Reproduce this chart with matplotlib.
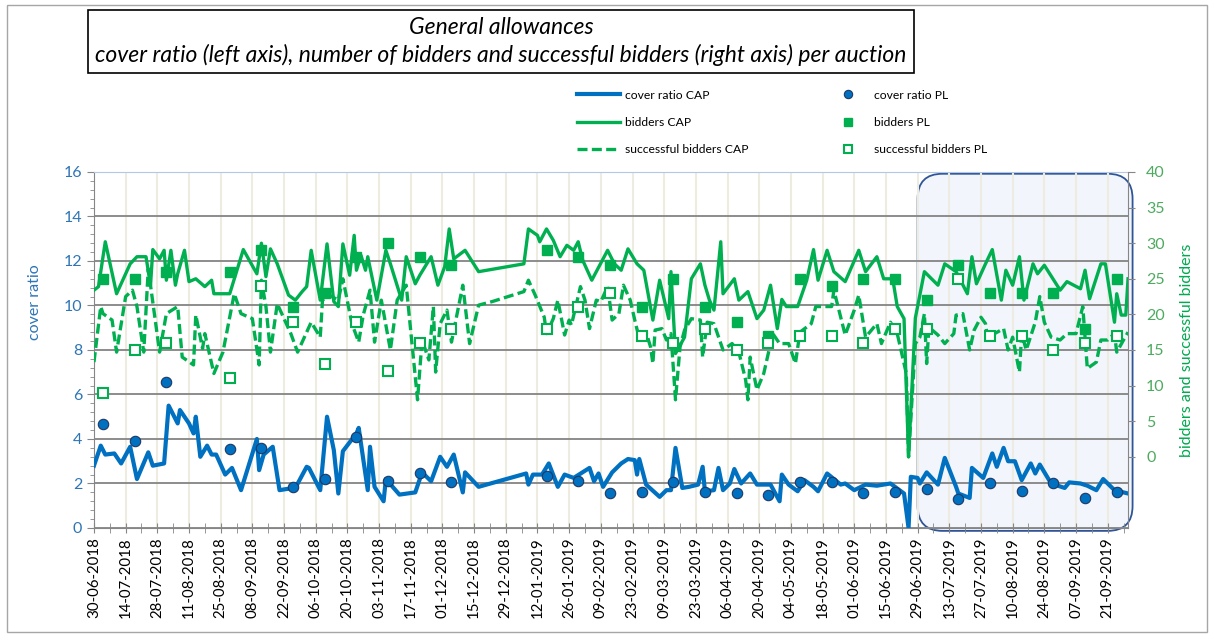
import pandas as pd
import matplotlib
matplotlib.use('Agg')
import matplotlib.pyplot as plt
import matplotlib.dates as mdates
from matplotlib.patches import FancyBboxPatch, Rectangle
from matplotlib.lines import Line2D

plt.rcParams['font.family'] = ['Lato', 'DejaVu Sans']

#==========================
# Datos: subastas CAP
#==========================
cap_cover_dates = [
    '2018-06-30', '2018-07-03', '2018-07-05', '2018-07-09', '2018-07-12', '2018-07-16', '2018-07-19', '2018-07-24', '2018-07-26', '2018-07-31',
    '2018-08-02', '2018-08-06', '2018-08-07', '2018-08-11', '2018-08-13', '2018-08-14', '2018-08-16', '2018-08-19', '2018-08-21', '2018-08-23', '2018-08-27', '2018-08-30',
    '2018-09-03', '2018-09-10', '2018-09-11', '2018-09-13', '2018-09-17', '2018-09-20', '2018-09-23', '2018-09-27',
    '2018-10-02', '2018-10-03', '2018-10-08', '2018-10-11', '2018-10-14', '2018-10-16', '2018-10-18', '2018-10-24', '2018-10-25', '2018-10-29', '2018-10-30',
    '2018-11-01', '2018-11-05', '2018-11-06', '2018-11-12', '2018-11-19', '2018-11-22', '2018-11-26', '2018-11-30',
    '2018-12-03', '2018-12-06', '2018-12-10', '2018-12-11', '2018-12-17',
    '2019-01-07', '2019-01-08', '2019-01-10', '2019-01-14', '2019-01-17', '2019-01-21', '2019-01-24', '2019-01-28',
    '2019-02-04', '2019-02-06', '2019-02-08', '2019-02-10', '2019-02-14', '2019-02-18', '2019-02-21', '2019-02-24', '2019-02-25', '2019-02-26',
    '2019-03-01', '2019-03-07', '2019-03-10', '2019-03-12', '2019-03-14', '2019-03-17', '2019-03-20', '2019-03-24', '2019-03-26', '2019-03-27', '2019-03-31',
    '2019-04-02', '2019-04-04', '2019-04-07', '2019-04-09', '2019-04-12', '2019-04-16', '2019-04-19', '2019-04-25', '2019-04-29', '2019-04-30',
    '2019-05-03', '2019-05-07', '2019-05-10', '2019-05-14', '2019-05-16', '2019-05-20', '2019-05-26', '2019-05-28',
    '2019-06-01', '2019-06-06', '2019-06-11', '2019-06-17', '2019-06-23', '2019-06-25', '2019-06-26', '2019-06-29', '2019-06-30',
    '2019-07-03', '2019-07-08', '2019-07-11', '2019-07-16', '2019-07-17', '2019-07-22', '2019-07-23', '2019-07-28',
    '2019-08-01', '2019-08-03', '2019-08-06', '2019-08-08', '2019-08-11', '2019-08-14', '2019-08-18', '2019-08-20', '2019-08-22', '2019-08-27',
    '2019-09-02', '2019-09-04', '2019-09-09', '2019-09-12', '2019-09-16', '2019-09-19', '2019-09-24', '2019-09-30']
cap_cover = [
    2.8, 3.7, 3.3, 3.35, 2.9, 3.65, 2.2, 3.4, 2.8, 2.9,
    5.5, 4.7, 5.3, 4.7, 4.25, 5.0, 3.2, 3.7, 3.3, 3.3, 2.4, 2.7,
    1.7, 4.0, 2.6, 3.3, 3.65, 1.7, 1.75, 1.8,
    2.75, 2.7, 1.7, 5.0, 3.5, 1.55, 3.45, 4.25, 4.5, 1.7, 3.65,
    1.85, 1.2, 2.2, 1.5, 1.6, 2.5, 2.1, 3.2,
    2.75, 3.3, 1.6, 2.5, 1.85,
    2.45, 1.95, 2.4, 2.4, 2.9, 1.85, 2.4, 2.25,
    2.7, 2.1, 2.45, 1.85, 2.5, 2.9, 3.1, 3.05, 2.4, 3.1,
    1.95, 1.4, 1.7, 1.7, 3.6, 1.8, 1.85, 1.95, 2.75, 1.65, 1.7,
    2.7, 1.7, 2.0, 2.65, 2.0, 2.45, 1.95, 1.95, 1.2, 2.4,
    1.95, 1.65, 2.15, 1.85, 1.65, 2.45, 1.95, 2.0,
    1.7, 1.95, 1.9, 2.0, 1.55, 0.0, 2.3, 2.25, 2.0,
    2.5, 1.95, 3.15, 1.85, 1.55, 1.35, 2.7, 2.25,
    3.35, 2.75, 3.6, 3.0, 3.0, 2.15, 2.9, 2.45, 2.85, 2.0,
    1.8, 2.05, 2.0, 1.9, 1.7, 2.2, 1.7, 1.55]

cap_bidders_dates = [
    '2018-06-30', '2018-07-02', '2018-07-05', '2018-07-10', '2018-07-16', '2018-07-19', '2018-07-23', '2018-07-25', '2018-07-26', '2018-07-29', '2018-07-31',
    '2018-08-01', '2018-08-03', '2018-08-05', '2018-08-06', '2018-08-09', '2018-08-11', '2018-08-14', '2018-08-18', '2018-08-21', '2018-08-22', '2018-08-29',
    '2018-09-04', '2018-09-10', '2018-09-12', '2018-09-14', '2018-09-16', '2018-09-19', '2018-09-24', '2018-09-27', '2018-09-30',
    '2018-10-02', '2018-10-04', '2018-10-08', '2018-10-11', '2018-10-14', '2018-10-16', '2018-10-18', '2018-10-21', '2018-10-23', '2018-10-24', '2018-10-26', '2018-10-28', '2018-10-29',
    '2018-11-02', '2018-11-06', '2018-11-08', '2018-11-13', '2018-11-15', '2018-11-19', '2018-11-21', '2018-11-26', '2018-11-29',
    '2018-12-02', '2018-12-04', '2018-12-06', '2018-12-11', '2018-12-17',
    '2019-01-06', '2019-01-08', '2019-01-12', '2019-01-13', '2019-01-16', '2019-01-19', '2019-01-22', '2019-01-25', '2019-01-28', '2019-01-30',
    '2019-02-01', '2019-02-05', '2019-02-12', '2019-02-15', '2019-02-18', '2019-02-21', '2019-02-25', '2019-02-28',
    '2019-03-04', '2019-03-07', '2019-03-11', '2019-03-12', '2019-03-14', '2019-03-18', '2019-03-21', '2019-03-25', '2019-03-27', '2019-03-29', '2019-03-31',
    '2019-04-03', '2019-04-04', '2019-04-09', '2019-04-11', '2019-04-15', '2019-04-19', '2019-04-22', '2019-04-25', '2019-04-28', '2019-04-30',
    '2019-05-02', '2019-05-07', '2019-05-11', '2019-05-14', '2019-05-16', '2019-05-20', '2019-05-23', '2019-05-28',
    '2019-06-03', '2019-06-06', '2019-06-11', '2019-06-14', '2019-06-18', '2019-06-20', '2019-06-23', '2019-06-25', '2019-06-28',
    '2019-07-02', '2019-07-08', '2019-07-11', '2019-07-16', '2019-07-21', '2019-07-23', '2019-07-25', '2019-07-29',
    '2019-08-01', '2019-08-05', '2019-08-07', '2019-08-10', '2019-08-13', '2019-08-15', '2019-08-19', '2019-08-21', '2019-08-24', '2019-08-31',
    '2019-09-03', '2019-09-09', '2019-09-11', '2019-09-13', '2019-09-18', '2019-09-20', '2019-09-24', '2019-09-25', '2019-09-27', '2019-09-29', '2019-09-30']
cap_bidders = [
    23.4, 23.9, 30.2, 22.9, 27.1, 28.1, 28.1, 24.1, 29.1, 27.8, 29.0,
    24.8, 29.0, 24.1, 25.7, 29.0, 24.6, 25.0, 23.9, 24.8, 22.9, 22.9,
    29.1, 25.7, 30.0, 25.3, 29.2, 27.1, 22.7, 22.0, 23.2,
    23.9, 29.0, 22.0, 29.9, 21.8, 21.1, 29.9, 25.5, 31.1, 26.2, 28.3, 26.2, 28.1,
    22.0, 29.0, 27.1, 22.0, 28.1, 24.3, 25.5, 28.1, 24.1,
    26.7, 32.0, 27.8, 29.0, 26.0,
    27.1, 32.0, 31.1, 30.2, 32.0, 30.4, 28.1, 29.7, 29.0, 30.2,
    27.6, 24.8, 29.0, 27.1, 26.2, 29.2, 27.1, 26.2,
    19.2, 24.8, 19.4, 26.0, 14.5, 16.8, 25.0, 27.1, 24.1, 22.0, 20.6,
    30.2, 22.9, 25.0, 22.0, 23.2, 19.4, 20.6, 24.1, 18.0, 22.1,
    21.1, 21.1, 24.8, 29.1, 24.8, 29.0, 26.0, 24.6,
    29.0, 26.0, 28.1, 25.0, 25.0, 21.1, 19.4, 0.0, 19.5,
    26.0, 24.1, 27.1, 26.0, 22.9, 28.1, 24.3, 27.1,
    29.1, 22.0, 26.2, 24.1, 28.1, 22.0, 27.1, 25.7, 26.9, 23.4,
    24.6, 23.6, 26.2, 22.2, 27.1, 27.1, 18.9, 22.9, 19.9, 19.9, 25.0]

cap_successful_dates = [
    '2018-06-30', '2018-07-03', '2018-07-04', '2018-07-08', '2018-07-10', '2018-07-14', '2018-07-17', '2018-07-19', '2018-07-22', '2018-07-24', '2018-07-29',
    '2018-08-01', '2018-08-06', '2018-08-08', '2018-08-13', '2018-08-14', '2018-08-17', '2018-08-18', '2018-08-22', '2018-08-26', '2018-08-31',
    '2018-09-03', '2018-09-08', '2018-09-11', '2018-09-12', '2018-09-14', '2018-09-16', '2018-09-19', '2018-09-25', '2018-09-28',
    '2018-10-04', '2018-10-08', '2018-10-09', '2018-10-12', '2018-10-16', '2018-10-18', '2018-10-22', '2018-10-25', '2018-10-27', '2018-10-30',
    '2018-11-01', '2018-11-04', '2018-11-08', '2018-11-11', '2018-11-15', '2018-11-20', '2018-11-22', '2018-11-25', '2018-11-27', '2018-11-28', '2018-11-30',
    '2018-12-03', '2018-12-05', '2018-12-10', '2018-12-13', '2018-12-17', '2018-12-23',
    '2019-01-06', '2019-01-08', '2019-01-11', '2019-01-15', '2019-01-16', '2019-01-19', '2019-01-21', '2019-01-24', '2019-01-26', '2019-01-27', '2019-01-31',
    '2019-02-02', '2019-02-04', '2019-02-07', '2019-02-09', '2019-02-12', '2019-02-14', '2019-02-17', '2019-02-19', '2019-02-22', '2019-02-24', '2019-02-26',
    '2019-03-01', '2019-03-03', '2019-03-04', '2019-03-05', '2019-03-08', '2019-03-10', '2019-03-12', '2019-03-14', '2019-03-16', '2019-03-18', '2019-03-21', '2019-03-25', '2019-03-26', '2019-03-28', '2019-03-31',
    '2019-04-04', '2019-04-08', '2019-04-11', '2019-04-14', '2019-04-15', '2019-04-16', '2019-04-19', '2019-04-22', '2019-04-26', '2019-04-29',
    '2019-05-03', '2019-05-06', '2019-05-08', '2019-05-13', '2019-05-15', '2019-05-22', '2019-05-23', '2019-05-28',
    '2019-06-01', '2019-06-03', '2019-06-06', '2019-06-11', '2019-06-13', '2019-06-17', '2019-06-20', '2019-06-24', '2019-06-25', '2019-06-28', '2019-06-30',
    '2019-07-02', '2019-07-03', '2019-07-04', '2019-07-08', '2019-07-11', '2019-07-15', '2019-07-16', '2019-07-19', '2019-07-22', '2019-07-24', '2019-07-27', '2019-07-29', '2019-07-30',
    '2019-08-02', '2019-08-06', '2019-08-08', '2019-08-10', '2019-08-13', '2019-08-14', '2019-08-16', '2019-08-20', '2019-08-22', '2019-08-24', '2019-08-27', '2019-08-31',
    '2019-09-03', '2019-09-07', '2019-09-10', '2019-09-12', '2019-09-16', '2019-09-18', '2019-09-21', '2019-09-24', '2019-09-25', '2019-09-28', '2019-09-30']
cap_successful = [
    13.3, 21.1, 20.1, 19.2, 14.7, 22.5, 23.4, 21.1, 14.7, 26.4, 14.7,
    20.1, 21.1, 14.0, 12.9, 19.9, 15.2, 17.3, 11.7, 14.7, 22.9,
    20.1, 19.4, 12.9, 24.8, 21.1, 14.7, 21.5, 17.3, 14.7,
    18.9, 16.8, 22.0, 22.7, 22.0, 25.0, 18.7, 16.1, 19.9, 23.4,
    16.1, 22.0, 15.0, 22.0, 24.1, 8.0, 16.4, 13.6, 21.1, 11.9, 18.7,
    20.6, 16.1, 24.1, 15.9, 21.3, 21.8,
    23.2, 24.8, 22.7, 19.6, 17.3, 19.4, 22.0, 17.1, 19.2, 18.5, 23.9,
    22.0, 18.0, 22.0, 21.8, 23.9, 19.2, 20.1, 24.1, 22.0, 19.2, 16.6,
    17.5, 15.4, 13.1, 17.8, 18.0, 16.4, 17.3, 8.0, 15.4, 17.8, 19.4, 19.2, 14.0, 18.9, 18.7,
    15.0, 15.9, 14.7, 10.8, 8.0, 14.0, 9.4, 11.7, 17.3, 15.9,
    15.9, 13.1, 17.5, 18.7, 21.1, 21.1, 23.4, 17.1,
    20.6, 22.7, 16.8, 18.7, 15.9, 18.9, 17.3, 11.7, 0.0, 15.9, 16.8,
    20.1, 13.1, 18.2, 17.1, 15.9, 17.3, 19.9, 20.1, 15.0, 17.8, 19.6, 18.7, 16.6,
    17.3, 18.0, 15.0, 16.8, 11.9, 17.3, 15.0, 18.9, 22.5, 18.9, 16.8, 16.4,
    17.3, 17.3, 21.1, 12.4, 13.3, 16.4, 16.4, 17.3, 14.7, 16.4, 17.5]

#==========================
# Datos: subastas PL
#==========================
pl_dates = ['2018-07-04', '2018-07-18', '2018-08-01', '2018-08-29', '2018-09-12', '2018-09-26',
            '2018-10-10', '2018-10-24', '2018-11-07', '2018-11-21', '2018-12-05', '2019-01-16',
            '2019-01-30', '2019-02-13', '2019-02-27', '2019-03-13', '2019-03-27', '2019-04-10',
            '2019-04-24', '2019-05-08', '2019-05-22', '2019-06-05', '2019-06-19', '2019-07-03',
            '2019-07-17', '2019-07-31', '2019-08-14', '2019-08-28', '2019-09-11', '2019-09-25']
pl_cover = [4.67, 3.9, 6.57, 3.56, 3.59, 1.86, 2.2, 4.1, 2.11, 2.47, 2.06, 2.35, 2.11, 1.57, 1.63,
            2.08, 1.6, 1.57, 1.48, 2.08, 2.08, 1.57, 1.63, 1.74, 1.3, 2.0, 1.68, 2.04, 1.34, 1.63]
pl_bidders = [25, 25, 26, 26, 29, 21, 23, 28, 30, 28, 27, 29, 28, 27, 21,
              25, 21, 19, 17, 25, 24, 25, 25, 22, 27, 23, 23, 23, 18, 25]
pl_successful = [9, 15, 16, 11, 24, 19, 13, 19, 12, 16, 18, 18, 21, 23, 17,
                 16, 18, 15, 16, 17, 17, 16, 18, 18, 25, 17, 17, 15, 16, 17]

# ejes y periodo resaltado
x_start, x_end = '2018-06-30', '2019-09-30'
hl_start, hl_end = '2019-06-29', '2019-10-02'

title_text = ('General allowances\n'
              'cover ratio (left axis), number of bidders and successful bidders (right axis) per auction')

BLUE = '#0070C0'
GREEN = '#00B050'

#==========================
# Grafica
#==========================
fig = plt.figure(figsize=(12.14, 6.41), dpi=100)
ax = fig.add_axes([0.0774, 0.1763, 0.8518, 0.5554])
ax2 = ax.twinx()

ax.plot(pd.to_datetime(cap_cover_dates), cap_cover, color=BLUE, lw=3, solid_joinstyle='round', zorder=3)
ax.plot(pd.to_datetime(pl_dates), pl_cover, 'o', ms=7.5, mfc=BLUE, mec='#1F3864', mew=0.8, zorder=4)

ax2.plot(pd.to_datetime(cap_bidders_dates), cap_bidders, color=GREEN, lw=2.4, solid_joinstyle='round')
ax2.plot(pd.to_datetime(cap_successful_dates), cap_successful, color=GREEN, lw=2.4,
         ls=(0, (3, 1.3)), dash_joinstyle='round')
ax2.plot(pd.to_datetime(pl_dates), pl_bidders, 's', ms=7.5, color=GREEN)
ax2.plot(pd.to_datetime(pl_dates), pl_successful, 's', ms=7, mfc='white', mec=GREEN, mew=1.5)

# recuadro del periodo resaltado
x0 = mdates.date2num(pd.Timestamp(hl_start))
x1 = mdates.date2num(pd.Timestamp(hl_end))
box = FancyBboxPatch((x0, -0.13), x1 - x0, 16.05, boxstyle='round,pad=0,rounding_size=11',
                     mutation_aspect=0.102, fc='#F2F5FB', ec='#2F5597', lw=1.3, clip_on=False, zorder=1)
ax.add_patch(box)

# eje x
ax.set_xlim(pd.Timestamp(x_start), pd.Timestamp(x_end))
ax.set_xticks(pd.date_range(x_start, '2019-09-21', freq='14D'))
ax.set_xticks(pd.date_range(x_start, x_end, freq='7D'), minor=True)
ax.xaxis.set_major_formatter(mdates.DateFormatter('%d-%m-%Y'))
ax.tick_params(axis='x', which='both', direction='inout', length=7, color='#868686',
               labelsize=10.8, rotation=90, pad=3)

# eje izquierdo
ax.set_ylim(0, 16)
ax.set_yticks(range(0, 17, 2))
ax.set_yticks([i * 0.4 for i in range(41)], minor=True)
ax.tick_params(axis='y', which='major', direction='out', length=5, color='#868686',
               labelcolor='#2E75B6', labelsize=11.5)
ax.tick_params(axis='y', which='minor', direction='out', length=3, color='#868686')
ax.set_ylabel('cover ratio', color='#2E75B6', fontsize=11.5)
ax.yaxis.set_label_coords(-0.05, 0.635)

# eje derecho
ax2.set_ylim(-10, 40)
ax2.set_yticks(range(0, 41, 5))
ax2.tick_params(axis='y', direction='out', length=5, color='#868686',
                labelcolor='#4DAA5F', labelsize=11.5, pad=8)
ax2.set_ylabel('bidders and successful bidders', color='#00A94F', fontsize=11.5)
ax2.yaxis.set_label_coords(1.05, 0.5)

# rejilla y bordes
ax.grid(axis='y', color='#8C8C8C', lw=1.4)
ax.grid(axis='x', which='major', color='#EEEBE0', lw=1.5)
for s in ['left', 'bottom']:
    ax.spines[s].set_color('#868686')
ax.spines['top'].set_color('#B4C7E7')
ax.spines['right'].set_visible(False)
for s in ['left', 'bottom', 'top']:
    ax2.spines[s].set_visible(False)
ax2.spines['right'].set_color('#868686')

# titulo en recuadro
fig.text(0.4127, 0.9353, title_text, ha='center', va='center', style='italic', fontsize=16.5,
         linespacing=1.3, bbox=dict(boxstyle='square,pad=0.3', fc='white', ec='black', lw=1.2))

# leyenda
handles = [
    Line2D([], [], color=BLUE, lw=3),
    Line2D([], [], color=GREEN, lw=2.4),
    Line2D([], [], color=GREEN, lw=2.4, ls=(0, (3, 1.3))),
    Line2D([], [], ls='', marker='o', ms=6, mfc=BLUE, mec='#1F3864', mew=0.8),
    Line2D([], [], ls='', marker='s', ms=6, color=GREEN),
    Line2D([], [], ls='', marker='s', ms=6, mfc='white', mec=GREEN, mew=1.5),
]
labels = ['cover ratio CAP', 'bidders CAP', 'successful bidders CAP',
          'cover ratio PL', 'bidders PL', 'successful bidders PL']
fig.legend(handles, labels, ncol=2, loc='upper left', bbox_to_anchor=(0.466, 0.877),
           frameon=False, fontsize=8.7, handlelength=3.6, handletextpad=0.4,
           columnspacing=6.4, labelspacing=1.35)

# marco exterior
fig.patches.append(Rectangle((7 / 1214, 1 - 632 / 641), 1200 / 1214, 627 / 641,
                             transform=fig.transFigure, fill=False, ec='#A6A6A6', lw=1))

fig.savefig('out.png', dpi=100)
